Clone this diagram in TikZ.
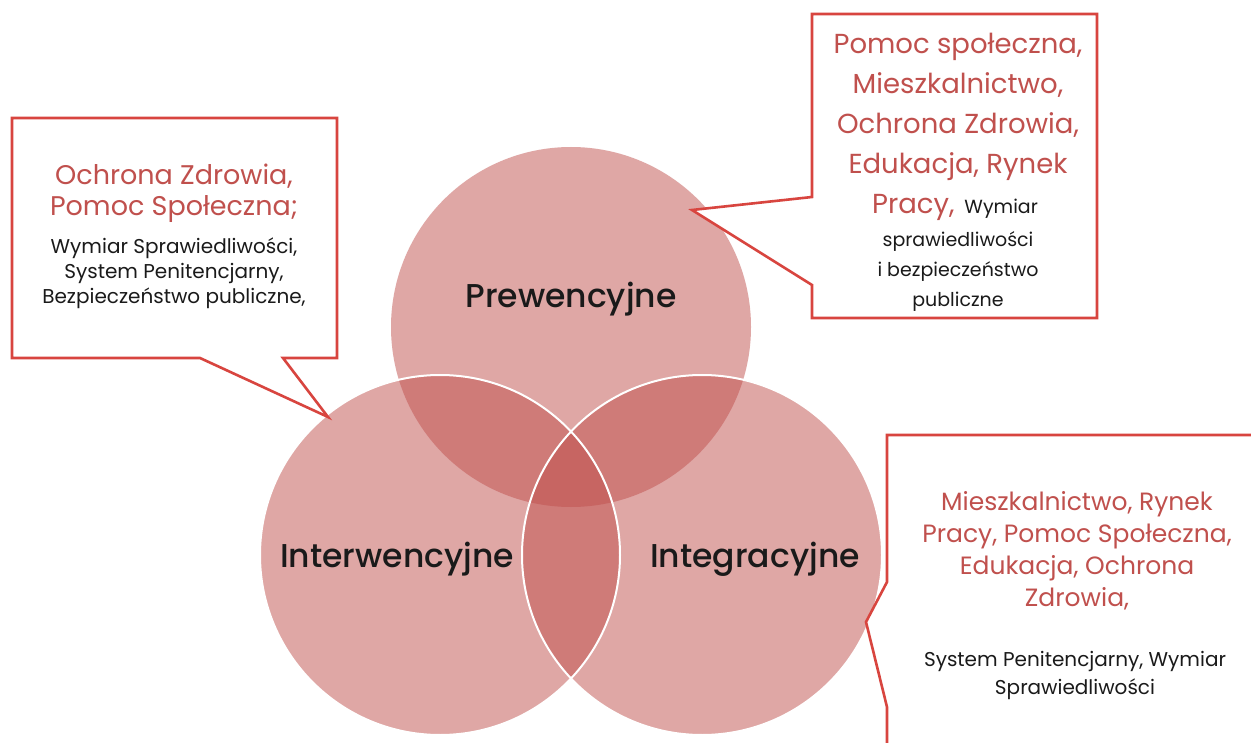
\documentclass[tikz,border=0pt]{standalone}
\usepackage{fontspec}
\setmainfont{Poppins}
\newfontfamily\medfont{Poppins Medium}
\definecolor{venn}{HTML}{C0504D}
\definecolor{txtred}{HTML}{C0504D}
\definecolor{boxred}{HTML}{D8453F}
\definecolor{txtblack}{HTML}{1A1A1A}
\begin{document}
\begin{tikzpicture}[x=1pt,y=-1pt,
  venncirc/.style={circle,minimum size=360pt,inner sep=0pt,outer sep=0pt,fill=venn,fill opacity=0.5},
  vennrim/.style={draw=white,line width=2pt},
  vlabel/.style={anchor=mid,inner sep=0pt,text=txtblack,font=\medfont\fontsize{33}{38}\selectfont},
  callout/.style={draw=boxred,fill=white,line width=2.6pt,line join=miter},
  redl/.style={anchor=mid,inner sep=0pt,text=txtred},
  blkl/.style={anchor=mid,inner sep=0pt,text=txtblack},
]
\useasboundingbox (0,0) rectangle (1251,743);
\clip (0,0) rectangle (1251,743);
\fill[white] (0,0) rectangle (1251,743);

% Venn circles
\node[venncirc] (ctop) at (571,327) {};
\node[venncirc] (cleft) at (440,555) {};
\node[venncirc] (cright) at (702,555) {};
\draw[vennrim] (cleft.center) circle[radius=180pt];
\draw[vennrim] (cright.center) circle[radius=180pt];

\node[vlabel] (ltop) at (571,305) {Prewencyjne};
\node[vlabel] (lleft) at (397,565) {Interwencyjne};
\node[vlabel] (lright) at (755,565) {Integracyjne};

% Left callout
\coordinate (tipL) at (328,417);
\draw[callout] (12,118) -- (337,118) -- (337,358) -- (283,358) -- (tipL) -- (200,358) -- (12,358) -- cycle;
\node[redl,font=\fontsize{27}{30}\selectfont] (a1) at (174,182) {Ochrona Zdrowia,};
\node[redl,font=\fontsize{27}{30}\selectfont] (a2) at (174,213) {Pomoc Społeczna;};
\node[blkl,font=\fontsize{20}{24}\selectfont] (a3) at (174,251) {Wymiar Sprawiedliwości,};
\node[blkl,font=\fontsize{20}{24}\selectfont] (a4) at (174,276) {System Penitencjarny,};
\node[blkl,font=\fontsize{20}{24}\selectfont] (a5) at (174,301) {Bezpieczeństwo publiczne,};

% Top-right callout
\coordinate (tipT) at (692,210);
\draw[callout] (812,14) -- (1097,14) -- (1097,318) -- (812,318) -- (812,285) -- (tipT) -- (812,197) -- cycle;
\node[redl,font=\fontsize{27.5}{32}\selectfont] (b1) at (958,51) {Pomoc społeczna,};
\node[redl,font=\fontsize{27.5}{32}\selectfont] (b2) at (958,91) {Mieszkalnictwo,};
\node[redl,font=\fontsize{27.5}{32}\selectfont] (b3) at (958,131) {Ochrona Zdrowia,};
\node[redl,font=\fontsize{27.5}{32}\selectfont] (b4) at (958,171) {Edukacja, Rynek};
\node[anchor=mid,inner sep=0pt] (b5) at (955,211) {{\fontsize{27.5}{32}\selectfont\color{txtred}Pracy,\hspace{10pt}}{\fontsize{19}{22}\selectfont\color{txtblack}Wymiar}};
\node[blkl,font=\fontsize{19}{22}\selectfont] (b6) at (958,244) {sprawiedliwości};
\node[blkl,font=\fontsize{19}{22}\selectfont] (b7) at (958,274) {i bezpieczeństwo};
\node[blkl,font=\fontsize{19}{22}\selectfont] (b8) at (958,304) {publiczne};

% Bottom-right callout
\coordinate (tipR) at (866,622);
\draw[callout] (887,435) -- (1265,435) -- (1265,760) -- (887,760) -- (887,707) -- (tipR) -- (887,582) -- cycle;
\node[redl,font=\fontsize{25}{30}\selectfont] (c1) at (1077,508) {Mieszkalnictwo, Rynek};
\node[redl,font=\fontsize{25}{30}\selectfont] (c2) at (1077,540) {Pracy, Pomoc Społeczna,};
\node[redl,font=\fontsize{25}{30}\selectfont] (c3) at (1077,572) {Edukacja, Ochrona};
\node[redl,font=\fontsize{25}{30}\selectfont] (c4) at (1077,604) {Zdrowia,};
\node[blkl,font=\fontsize{20}{24}\selectfont] (c5) at (1075,664) {System Penitencjarny, Wymiar};
\node[blkl,font=\fontsize{20}{24}\selectfont] (c6) at (1075,692) {Sprawiedliwości};
\end{tikzpicture}
\end{document}
